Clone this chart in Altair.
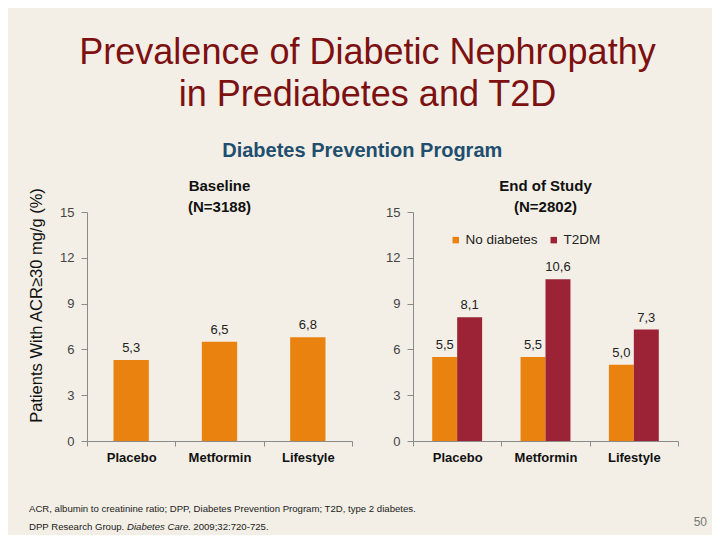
import altair as alt
import pandas as pd

# ---- data ----
groups = ["Placebo", "Metformin", "Lifestyle"]
baseline_values = [5.3, 6.5, 6.8]
series = ["No diabetes", "T2DM"]
end_no_diabetes = [5.5, 5.5, 5.0]
end_t2dm = [8.1, 10.6, 7.3]
y_ticks = [0, 3, 6, 9, 12, 15]

main_title = ["Prevalence of Diabetic Nephropathy", "in Prediabetes and T2D"]
sub_title = "Diabetes Prevention Program"
left_title = "Baseline\n(N=3188)"
right_title = "End of Study\n(N=2802)"
y_title = "Patients With ACR\u226530 mg/g (%)"
foot_line1 = "ACR, albumin to creatinine ratio; DPP, Diabetes Prevention Program; T2D, type 2 diabetes."
ref_a = "DPP Research Group."
ref_b = "Diabetes Care"
ref_c = ". 2009;32:720-725."
page_no = "50"

ORANGE = "#EA820F"
DARKRED = "#9B2335"
FONT = "Liberation Sans"

base_df = pd.DataFrame({"group": groups, "value": baseline_values})
end_df = pd.DataFrame({
    "group": groups * 2,
    "series": [series[0]] * 3 + [series[1]] * 3,
    "value": end_no_diabetes + end_t2dm,
})

label_expr = "replace(format(datum.value, '.1f'), '.', ',')"

x_axis = alt.Axis(title=None, labelAngle=0, labelFontWeight="bold", labelFontSize=13,
                  labelColor="#111", labelFont=FONT, tickBand="extent", tickSize=5,
                  tickColor="#8a8a8a", domainColor="#8a8a8a", labelPadding=5)
x_scale = alt.Scale(paddingInner=0, paddingOuter=0)
y_scale = alt.Scale(domain=[0, 15], nice=False)

W, H = 265, 229

def panel_title(txt):
    return alt.Chart(pd.DataFrame({"t": [txt]})).mark_text(
        fontSize=15, fontWeight="bold", font=FONT, color="#111", lineBreak="\n",
        lineHeight=21, align="center", baseline="alphabetic").encode(
        x=alt.value(W / 2), y=alt.value(-21), text="t:N")

# ---- left panel ----
lb = alt.Chart(base_df).encode(
    x=alt.X("group:N", sort=groups, scale=x_scale, axis=x_axis),
    y=alt.Y("value:Q", scale=y_scale,
            axis=alt.Axis(values=y_ticks, title=y_title, titleFont=FONT, titleFontSize=16.5,
                          titleFontWeight="normal", titleColor="#111",
                          titleX=-51, titleY=93, titleBaseline="middle", titleAngle=-90,
                          titleAlign="center")),
)
left_bars = lb.mark_bar(color=ORANGE, width=alt.RelativeBandSize(0.4))
left_text = lb.transform_calculate(label=label_expr).mark_text(
    dy=-12, fontSize=13, font=FONT, color="#222").encode(text="label:N")
left = alt.layer(left_bars, left_text, panel_title(left_title)).properties(width=W, height=H)

# ---- right panel ----
rb = alt.Chart(end_df).encode(
    x=alt.X("group:N", sort=groups, scale=x_scale, axis=x_axis),
    xOffset=alt.XOffset("series:N", sort=series,
                        scale=alt.Scale(paddingInner=0, paddingOuter=0.77)),
    y=alt.Y("value:Q", scale=y_scale, axis=alt.Axis(values=y_ticks, title=None)),
)
right_bars = rb.mark_bar().encode(
    color=alt.Color("series:N", sort=series,
                    scale=alt.Scale(domain=series, range=[ORANGE, DARKRED]),
                    legend=alt.Legend(orient="none", legendX=362, legendY=21,
                                      direction="horizontal", title=None,
                                      symbolType="square", symbolSize=42,
                                      symbolStrokeWidth=0, labelFontSize=13.5,
                                      labelFont=FONT, labelColor="#222",
                                      columnPadding=9, labelOffset=3)),
)
right_text = rb.transform_calculate(label=label_expr).mark_text(
    dy=-12, fontSize=13, font=FONT, color="#222").encode(text="label:N")
right = alt.layer(right_bars, right_text, panel_title(right_title)).properties(width=W, height=H)

panels = alt.hconcat(left, right, spacing=32).properties(
    title=alt.TitleParams(sub_title, fontSize=20, fontWeight="bold", font=FONT,
                          color="#1F4E6E", anchor="middle", dx=9, offset=18),
)

# ---- footer ----
FX = -58
fs = 9.6
def ftext(txt, x, y, **kw):
    props = dict(align="left", baseline="middle", fontSize=fs, font=FONT, color="#222")
    props.update(kw)
    return alt.Chart(pd.DataFrame({"t": [txt]})).mark_text(**props).encode(
        x=alt.value(x), y=alt.value(y), text="t:N")

footer = alt.layer(
    ftext(foot_line1, FX, 8),
    ftext(ref_a, FX, 26),
    ftext(ref_b, FX + 98, 26, fontStyle="italic"),
    ftext(ref_c, FX + 159, 26),
    ftext(page_no, 620, 21, align="right", fontSize=12, color="#777"),
).properties(width=620, height=34)

chart = alt.vconcat(panels, footer, spacing=37).properties(
    title=alt.TitleParams(main_title, fontSize=36, font=FONT, fontWeight="normal",
                          color="#7D1010", lineHeight=42, anchor="middle", offset=27),
    background="#F3EFE6",
    padding={"left": 19, "top": 27, "right": 5, "bottom": 0},
).configure_view(stroke=None).configure_axisY(
    grid=False, domainColor="#8a8a8a", tickColor="#8a8a8a", tickSize=6,
    labelPadding=7, labelFontSize=13, labelColor="#444", labelFont=FONT,
).configure_axisX(grid=False)

chart.save("out.html", embed_options={"renderer": "svg", "actions": False})
